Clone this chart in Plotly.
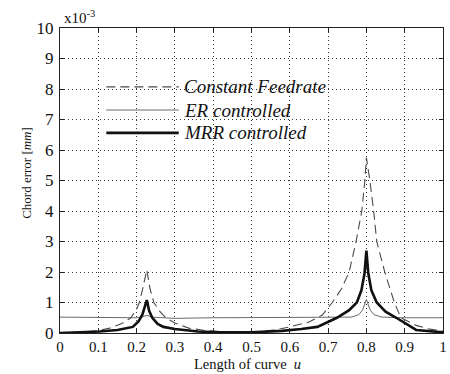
import plotly.graph_objects as go

# ---- data ----
u_cf = [0.0, 0.05, 0.1, 0.13, 0.16, 0.185, 0.2, 0.207, 0.215, 0.2266, 0.235, 0.245, 0.26, 0.276, 0.3, 0.336, 0.38, 0.42, 0.47, 0.52, 0.56, 0.6, 0.65, 0.685, 0.711, 0.735, 0.755, 0.773, 0.788, 0.796, 0.80, 0.809, 0.819, 0.827, 0.848, 0.873, 0.89, 0.93, 0.96, 1.0]
v_cf = [0.0, 0.02, 0.08, 0.16, 0.3, 0.5, 0.78, 1.0, 1.4, 2.07, 1.45, 1.0, 0.72, 0.5, 0.33, 0.16, 0.08, 0.04, 0.03, 0.05, 0.1, 0.2, 0.36, 0.59, 1.0, 1.45, 2.0, 3.0, 4.0, 5.0, 5.75, 5.0, 4.0, 3.0, 2.0, 1.0, 0.5, 0.25, 0.14, 0.06]

u_er = [0.0, 0.1, 0.2, 0.215, 0.2266, 0.24, 0.3, 0.4, 0.5, 0.6, 0.7, 0.76, 0.78, 0.79, 0.80, 0.81, 0.82, 0.84, 0.9, 1.0]
v_er = [0.52, 0.5, 0.5, 0.53, 0.58, 0.52, 0.48, 0.5, 0.5, 0.5, 0.5, 0.52, 0.6, 0.75, 1.1, 0.75, 0.6, 0.52, 0.5, 0.5]

u_mrr = [0.0, 0.05, 0.103, 0.15, 0.19, 0.205, 0.215, 0.2266, 0.233, 0.241, 0.255, 0.27, 0.3, 0.36, 0.42, 0.5, 0.58, 0.63, 0.672, 0.723, 0.755, 0.775, 0.787, 0.795, 0.80, 0.805, 0.813, 0.827, 0.85, 0.878, 0.93, 1.0]
v_mrr = [0.0, 0.02, 0.05, 0.1, 0.2, 0.38, 0.6, 1.08, 0.72, 0.5, 0.3, 0.2, 0.13, 0.05, 0.02, 0.02, 0.07, 0.13, 0.2, 0.5, 0.75, 1.0, 1.4, 1.95, 2.7, 1.95, 1.4, 1.0, 0.7, 0.5, 0.1, 0.02]

series_names = ["Constant Feedrate", "ER controlled", "MRR controlled"]
x_ticks = [0, 0.1, 0.2, 0.3, 0.4, 0.5, 0.6, 0.7, 0.8, 0.9, 1.0]
x_ticktext = ["0", "0.1", "0.2", "0.3", "0.4", "0.5", "0.6", "0.7", "0.8", "0.9", "1"]
y_ticks = [0, 1, 2, 3, 4, 5, 6, 7, 8, 9, 10]
y_ticktext = ["0", "1", "2", "3", "4", "5", "6", "7", "8", "9", "10"]

FONT = "Liberation Serif, Times New Roman, serif"
styles = [
    dict(color="#4a4a4a", width=1.1, dash="9px,5px"),
    dict(color="#6a6a6a", width=1.0, dash="solid"),
    dict(color="#111111", width=2.6, dash="solid"),
]

fig = go.Figure()
for (xs, ys), name, st in zip([(u_cf, v_cf), (u_er, v_er), (u_mrr, v_mrr)], series_names, styles):
    fig.add_trace(go.Scatter(x=xs, y=ys, mode="lines", name=name, line=st, showlegend=False))

# manual legend
ly = [0.807, 0.731, 0.656]
for yy, name, st in zip(ly, series_names, styles):
    fig.add_shape(type="line", xref="paper", yref="paper", x0=0.121, x1=0.31, y0=yy, y1=yy,
                  line=dict(color=st["color"], width=st["width"], dash=st["dash"]))
    fig.add_annotation(xref="paper", yref="paper", x=0.318, y=yy, xanchor="left", yanchor="middle",
                       text=name, showarrow=False,
                       font=dict(family=FONT, size=19, color="#111", style="italic"))

fig.add_annotation(xref="paper", yref="paper", x=0.006, y=1.035, xanchor="left", yanchor="middle",
                   text="x10<sup>-3</sup>", showarrow=False, font=dict(family=FONT, size=15, color="#111"))
fig.add_annotation(xref="paper", yref="paper", x=-0.111, y=0.525, textangle=-90,
                   text="Chord error [<i>mm</i>]", showarrow=False, font=dict(family=FONT, size=13, color="#111"))
fig.add_annotation(xref="paper", yref="paper", x=0.49, y=-0.102, yanchor="middle",
                   text="Length of curve  <i>u</i>", showarrow=False, font=dict(family=FONT, size=14.5, color="#111"))

axis_common = dict(showline=True, linecolor="#222", linewidth=1, mirror="allticks", ticks="inside",
                   ticklen=4, tickcolor="#222", showgrid=True, gridcolor="#333", gridwidth=1,
                   griddash="1px,3px", zeroline=False, ticklabeloverflow="allow")
fig.update_xaxes(range=[0, 1], tickvals=x_ticks, ticktext=x_ticktext,
                 tickfont=dict(family=FONT, size=15, color="#111"), **axis_common)
fig.update_yaxes(range=[0, 10], tickvals=y_ticks, ticktext=y_ticktext,
                 tickfont=dict(family=FONT, size=17, color="#111"), ticklabelstandoff=2, **axis_common)

fig.update_layout(width=450, height=374, margin=dict(l=60, r=3, t=28, b=41),
                  font=dict(family=FONT, color="#111"),
                  plot_bgcolor="white", paper_bgcolor="white")
fig.write_html("out.html")
